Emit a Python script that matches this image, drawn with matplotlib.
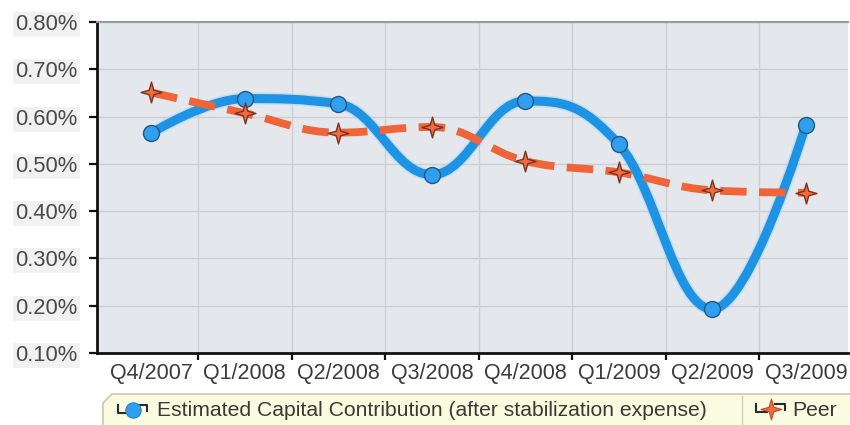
import numpy as np
import matplotlib
matplotlib.use("Agg")
import matplotlib.pyplot as plt
from matplotlib.path import Path
from matplotlib.patches import PathPatch, Polygon
from matplotlib.lines import Line2D

plt.rcParams['font.family'] = ['Liberation Sans', 'DejaVu Sans']

quarters = ["Q4/2007", "Q1/2008", "Q2/2008", "Q3/2008",
            "Q4/2008", "Q1/2009", "Q2/2009", "Q3/2009"]
capital = [0.565, 0.638, 0.627, 0.477, 0.633, 0.541, 0.193, 0.583]
peer = [0.651, 0.607, 0.566, 0.578, 0.506, 0.482, 0.444, 0.439]
y_ticks = [0.10, 0.20, 0.30, 0.40, 0.50, 0.60, 0.70, 0.80]

BLUE = "#1e93e4"
ORANGE = "#f0643a"
W, H = 850, 425


def spline_path(xs, ys, smoothing=1.5):
    """Cubic spline path through the points (Highcharts-style control points)."""
    n = len(xs)
    denom = smoothing + 1
    left = [(xs[i], ys[i]) for i in range(n)]
    right = [(xs[i], ys[i]) for i in range(n)]
    for i in range(1, n - 1):
        px, py = xs[i], ys[i]
        lx, ly = xs[i - 1], ys[i - 1]
        nx, ny = xs[i + 1], ys[i + 1]
        lcx = (smoothing * px + lx) / denom
        lcy = (smoothing * py + ly) / denom
        rcx = (smoothing * px + nx) / denom
        rcy = (smoothing * py + ny) / denom
        corr = ((rcy - lcy) * (rcx - px)) / (rcx - lcx) + py - rcy
        lcy += corr
        rcy += corr
        if lcy > ly and lcy > py:
            lcy = max(ly, py); rcy = 2 * py - lcy
        elif lcy < ly and lcy < py:
            lcy = min(ly, py); rcy = 2 * py - lcy
        if rcy > ny and rcy > py:
            rcy = max(ny, py); lcy = 2 * py - rcy
        elif rcy < ny and rcy < py:
            rcy = min(ny, py); lcy = 2 * py - rcy
        left[i] = (lcx, lcy)
        right[i] = (rcx, rcy)
    verts = [(xs[0], ys[0])]
    codes = [Path.MOVETO]
    for i in range(1, n):
        verts += [right[i - 1], left[i], (xs[i], ys[i])]
        codes += [Path.CURVE4] * 3
    return Path(verts, codes)


def fig_xy(x, y):
    return x / W, 1 - y / H


fig = plt.figure(figsize=(8.5, 4.25), dpi=100)
fig.patch.set_facecolor("white")
l, b = fig_xy(97, 353)
r, t = fig_xy(848, 22)
ax = fig.add_axes([l, b, r - l, t - b])
ax.set_facecolor("#e4e7eb")

x = np.arange(len(quarters))
ax.set_xlim(-0.58, len(quarters) - 1 + 0.45)
ax.set_ylim(0.10, 0.80)

# gridlines
ax.set_yticks(y_ticks)
ax.set_yticklabels([f"{v:.2f}%" for v in y_ticks])
ax.set_xticks(x)
ax.set_xticklabels(quarters)
ax.set_xticks(x[:-1] + 0.5, minor=True)
ax.grid(axis="y", which="major", color="#cbcfd4", lw=1.0, zorder=0)
ax.grid(axis="x", which="minor", color="#cbcfd4", lw=1.0, zorder=0)
ax.set_axisbelow(True)

ax.tick_params(axis="x", which="major", length=0, pad=7, labelsize=15.5,
               labelcolor="#3c3c3c")
ax.tick_params(axis="x", which="minor", length=5, width=1.6, color="#111111",
               direction="out")
ax.tick_params(axis="y", length=6, width=1.6, color="#111111", pad=8,
               labelsize=15.8, labelcolor="#4a4a4a")
for lab in ax.get_yticklabels():
    lab.set_bbox(dict(facecolor="#f1f1f1", edgecolor="none", pad=1.5))

for side in ("left", "bottom"):
    ax.spines[side].set_color("#111111")
    ax.spines[side].set_linewidth(2.0)
ax.spines["top"].set_color("#9a9a9a")
ax.spines["top"].set_linewidth(1.5)
ax.spines["right"].set_visible(False)

# capital contribution series
cap_path = spline_path(x.astype(float), capital)
ax.add_patch(PathPatch(cap_path, fill=False, edgecolor="#9fd6fb", lw=8.6,
                       alpha=0.5, zorder=2, capstyle="round"))
ax.add_patch(PathPatch(cap_path, fill=False, edgecolor=BLUE, lw=6.5,
                       zorder=3, capstyle="round", joinstyle="round"))
ax.plot(x, capital, ls="none", marker="o", ms=11.5, mfc="#2f9ff0",
        mec="#28577e", mew=1.0, zorder=5)

# peer series
peer_path = spline_path(x.astype(float), peer)
ax.add_patch(PathPatch(peer_path, fill=False, edgecolor=ORANGE, lw=5.6,
                       zorder=4, capstyle="butt", linestyle=(0, (3.4, 1.6))))

star = Path([(0, 1), (0.22, 0.22), (1, 0), (0.22, -0.22), (0, -1),
             (-0.22, -0.22), (-1, 0), (-0.22, 0.22), (0, 1)],
            [Path.MOVETO] + [Path.LINETO] * 7 + [Path.CLOSEPOLY])
ax.plot(x, peer, ls="none", marker=star, ms=15, mfc="#f06a42",
        mec="#7a3420", mew=1.0, zorder=6)

# legend box along the bottom edge
x0, y0, x1, y1 = 103, 394, 852, 430
box = Polygon([fig_xy(x0, y1), fig_xy(x0, y0 + 9), fig_xy(x0 + 9, y0),
               fig_xy(x1, y0), fig_xy(x1, y1)], closed=True,
              transform=fig.transFigure, facecolor="#fbfbe1",
              edgecolor="#c9c9a8", lw=1.2)
fig.patches.append(box)
fig.add_artist(Line2D(*zip(fig_xy(742, y0 + 2), fig_xy(742, y1)),
                      transform=fig.transFigure, color="#d0d0b4", lw=1.0))


def legend_icon(cx, cy, marker_kw):
    pts = [(cx - 15, cy - 5), (cx - 15, cy + 3), (cx - 4, cy + 3)]
    fig.add_artist(Line2D(*zip(*[fig_xy(*p) for p in pts]),
                          transform=fig.transFigure, color="#2a2a2a", lw=1.5))
    pts = [(cx + 4, cy - 5), (cx + 14, cy - 5), (cx + 14, cy + 1)]
    fig.add_artist(Line2D(*zip(*[fig_xy(*p) for p in pts]),
                          transform=fig.transFigure, color="#2a2a2a", lw=1.5))
    fx, fy = fig_xy(cx, cy)
    fig.add_artist(Line2D([fx], [fy], transform=fig.transFigure, **marker_kw))


legend_icon(133, 410, dict(marker="o", ms=11, mfc="#2f9ff0", mec="#2f7fc0",
                           mew=0.8, ls="none"))
legend_icon(771, 409, dict(marker=star, ms=15, mfc="#f06a42", mec="#c04a2a",
                           mew=0.8, ls="none"))

tx, ty = fig_xy(157, 410)
fig.text(tx, ty, "Estimated Capital Contribution (after stabilization expense)",
         fontsize=15.2, color="#3a3a30", va="center", ha="left")
tx, ty = fig_xy(792, 410)
fig.text(tx, ty, "Peer", fontsize=15.2, color="#3a3a30", va="center", ha="left")

fig.savefig("out.png", dpi=100, facecolor="white")
